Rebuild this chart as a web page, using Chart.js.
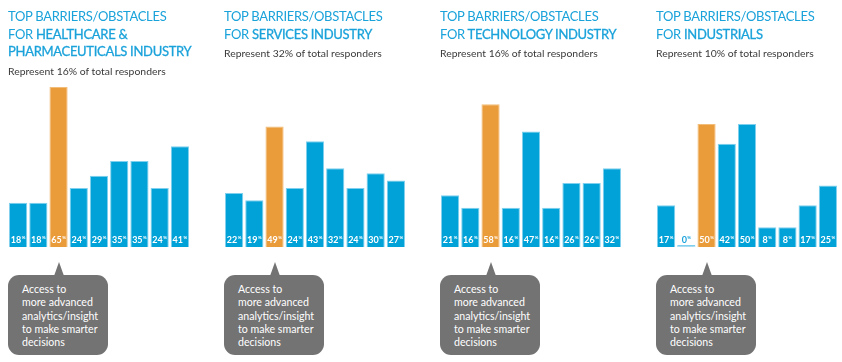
<!DOCTYPE html>
<html>
<head>
<meta charset="utf-8">
<script src="https://cdn.jsdelivr.net/npm/chart.js@4"></script>
<style>
    body { margin: 0; background: #fff; width: 842px; height: 362px; overflow: hidden; font-family: Lato, sans-serif; }
    .panel-title { position: absolute; top: 8px; color: #1aa2da; font-size: 13px; letter-spacing: -0.3px; line-height: 17.5px; white-space: nowrap; z-index: 2; pointer-events: none; }
    .panel-title span { -webkit-text-stroke: 0.3px #1aa2da; }
    .panel-sub { color: #3a3a3a; font-size: 10.4px; letter-spacing: 0; line-height: 14px; margin-top: 3px; }
    .chart-box { position: absolute; top: 0; width: 182px; height: 250px; }
    .callout { position: absolute; top: 275px; width: 100px; height: 80px; background: #737373; border-radius: 11px; color: #fff; font-size: 10.6px; line-height: 13.3px; box-sizing: border-box; padding: 8px 0 0 14px; }
    .callout .tip { position: absolute; top: -13px; width: 0; height: 0; border-left: 5px solid transparent; border-right: 5px solid transparent; border-bottom: 14px solid #737373; }
</style>
</head>
<body>
<script>
// --- Data ---
let barrierCategories = ['Barrier 1', 'Barrier 2', 'Barrier 3', 'Barrier 4', 'Barrier 5', 'Barrier 6', 'Barrier 7', 'Barrier 8', 'Barrier 9'];
let healthcareValues = [18, 18, 65, 24, 29, 35, 35, 24, 41];
let servicesValues = [22, 19, 49, 24, 43, 32, 24, 30, 27];
let technologyValues = [21, 16, 58, 16, 47, 16, 26, 26, 32];
let industrialsValues = [17, 0, 50, 42, 50, 8, 8, 17, 25];
let highlightIndex = 2; // the orange bar
let calloutText = ['Access to', 'more advanced', 'analytics/insight', 'to make smarter', 'decisions'];

let panels = [
    { title: 'TOP BARRIERS/OBSTACLES<br>FOR <span>HEALTHCARE &amp;<br>PHARMACEUTICALS INDUSTRY</span>', sub: 'Represent 16% of total responders', values: healthcareValues },
    { title: 'TOP BARRIERS/OBSTACLES<br>FOR <span>SERVICES INDUSTRY</span>', sub: 'Represent 32% of total responders', values: servicesValues },
    { title: 'TOP BARRIERS/OBSTACLES<br>FOR <span>TECHNOLOGY INDUSTRY</span>', sub: 'Represent 16% of total responders', values: technologyValues },
    { title: 'TOP BARRIERS/OBSTACLES<br>FOR <span>INDUSTRIALS</span>', sub: 'Represent 10% of total responders', values: industrialsValues }
];

// Value labels at the bottom of each bar, with a small raised %
let valueLabels = {
    id: 'valueLabels',
    afterDatasetsDraw(chart) {
        let ctx = chart.ctx;
        let meta = chart.getDatasetMeta(0);
        let values = chart.data.datasets[0].data;
        let bottom = chart.chartArea.bottom;
        ctx.save();
        ctx.textBaseline = 'alphabetic';
        meta.data.forEach((bar, i) => {
            let num = String(values[i]);
            ctx.font = 'bold 9px Lato, sans-serif';
            let w1 = ctx.measureText(num).width;
            ctx.font = 'bold 4.5px Lato, sans-serif';
            let w2 = ctx.measureText('%').width;
            let x0 = bar.x - (w1 + w2 + 0.5) / 2;
            ctx.fillStyle = values[i] === 0 ? '#1aa2da' : '#ffffff';
            ctx.font = 'bold 9px Lato, sans-serif';
            ctx.fillText(num, x0, bottom - 4.5);
            ctx.font = 'bold 4.5px Lato, sans-serif';
            ctx.fillText('%', x0 + w1 + 0.5, bottom - 8);
        });
        ctx.restore();
    }
};

panels.forEach((p, n) => {
    let left = 8 + 216 * n;

    // Title + subtitle
    let title = document.createElement('div');
    title.className = 'panel-title';
    title.style.left = left + 'px';
    title.innerHTML = p.title + '<div class="panel-sub">' + p.sub + '</div>';
    document.body.appendChild(title);

    // Chart
    let box = document.createElement('div');
    box.className = 'chart-box';
    box.style.left = left + 'px';
    let canvas = document.createElement('canvas');
    box.appendChild(canvas);
    document.body.appendChild(box);

    let chart = new Chart(canvas.getContext('2d'), {
        type: 'bar',
        data: {
            labels: barrierCategories,
            datasets: [{
                data: p.values,
                backgroundColor: p.values.map((v, i) => i === highlightIndex ? '#ea9b3a' : (v === 0 ? '#a9dcf1' : '#00a2d8')),
                borderColor: p.values.map((v, i) => i === highlightIndex ? '#f2bd78' : '#7fd0ee'),
                borderWidth: { top: 1, left: 1, right: 1, bottom: 0 },
                borderSkipped: false,
                minBarLength: 2,
                categoryPercentage: 1,
                barPercentage: 0.9
            }]
        },
        options: {
            responsive: true,
            maintainAspectRatio: false,
            animation: false,
            layout: { padding: { top: 1, bottom: 3, left: 0, right: 0 } },
            plugins: { legend: { display: false }, tooltip: { enabled: false } },
            scales: {
                x: { display: false },
                y: { display: false, min: 0, max: 100 }
            }
        },
        plugins: [valueLabels]
    });

    // Callout pointing at the highlighted bar
    let call = document.createElement('div');
    call.className = 'callout';
    call.style.left = left + 'px';
    call.innerHTML = calloutText.join('<br>') + '<div class="tip"></div>';
    document.body.appendChild(call);
    let tipX = chart.scales.x.getPixelForValue(highlightIndex);
    call.querySelector('.tip').style.left = (tipX - 5) + 'px';
});
</script>
</body>
</html>
